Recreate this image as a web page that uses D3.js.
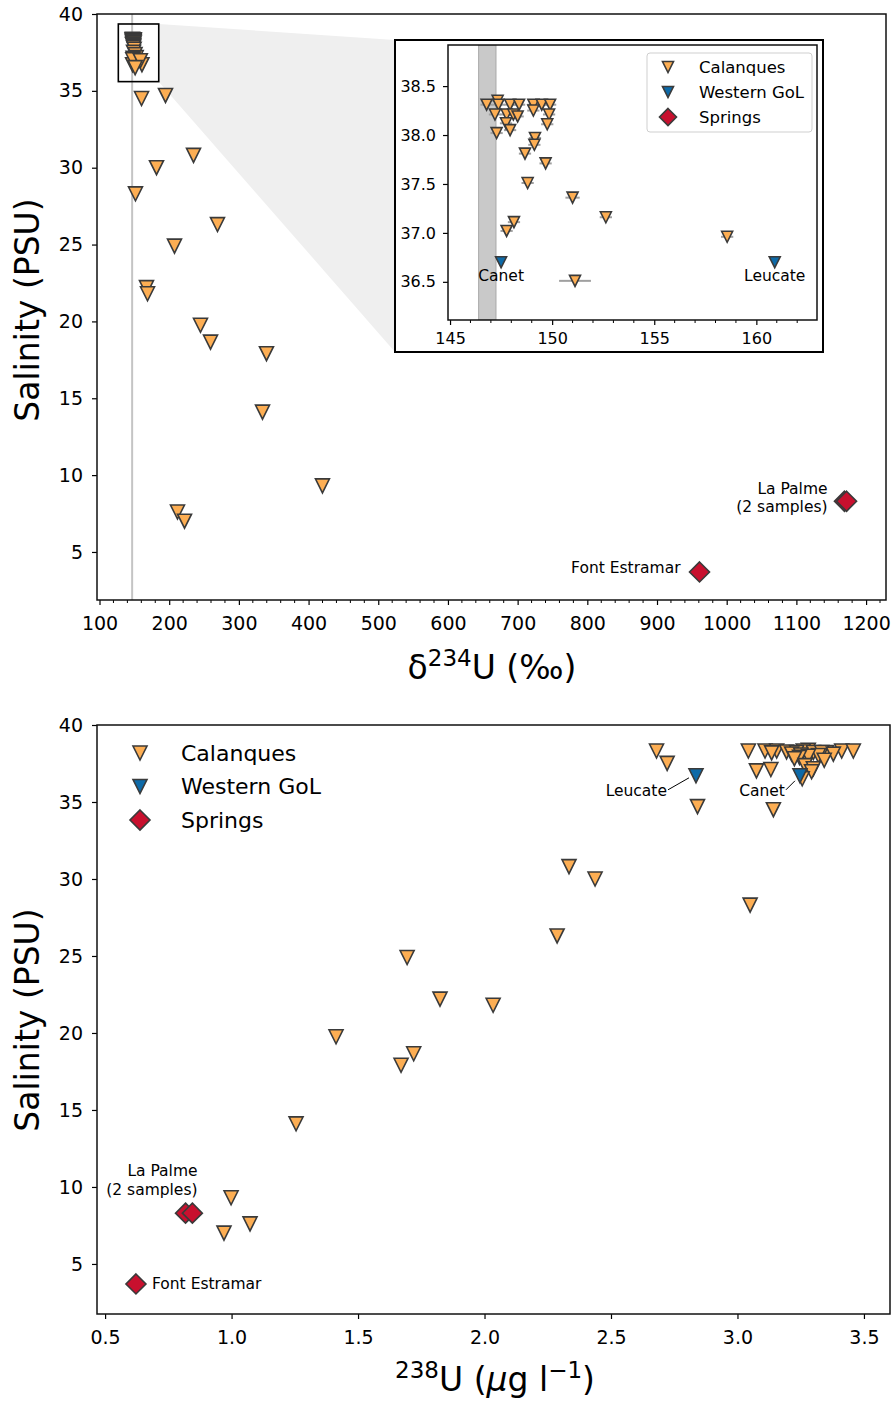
<!DOCTYPE html>
<html>
<head>
<meta charset="utf-8">
<script src="https://cdn.jsdelivr.net/npm/d3@7"></script>
<style>
body { margin: 0; background: #fff; }
svg text { font-family: "DejaVu Sans", sans-serif; fill: #000; }
</style>
</head>
<body>
<svg id="chart" width="896" height="1402"></svg>
<script>
// Calanques samples: d234U (permil), salinity (PSU), 238U (ug/l), d234U error
const calD234 = [147.33, 146.79, 147.37, 147.94, 148.38, 149.08, 149.49, 149.9, 149.08, 147.2, 147.77, 148.1, 149.85, 148.31, 147.74, 149.76, 147.94, 147.28, 149.16, 149.13, 148.67, 149.68, 148.8, 151.0, 152.63, 148.13, 147.77, 158.57, 151.12,
                 151.6, 160.3, 194.7, 234.9, 181.8, 207.6, 269.3, 167.4, 168.9, 244.9, 259.3, 339.6, 333.9, 419.9, 211.9, 222.0];
const calSal  = [38.35, 38.31, 38.31, 38.31, 38.31, 38.31, 38.31, 38.31, 38.25, 38.21, 38.21, 38.21, 38.21, 38.19, 38.12, 38.11, 38.05, 38.02, 37.97, 37.90, 37.81, 37.71, 37.51, 37.36, 37.16, 37.11, 37.02, 36.96, 36.51,
                 28.3, 34.5, 34.7, 30.8, 30.0, 24.9, 26.3, 22.2, 21.8, 19.75, 18.65, 17.9, 14.1, 9.3, 7.6, 7.0];
const calU    = [3.28, 2.68, 3.043, 3.109, 3.155, 3.26, 3.412, 3.458, 3.194, 3.234, 3.30, 3.352, 3.333, 3.135, 3.214, 3.379, 3.25, 3.32, 3.28, 3.245, 3.225, 3.343, 2.722, 3.267, 3.30, 3.132, 3.075, 3.293, 3.256,
                 3.05, 3.142, 2.842, 2.334, 2.437, 1.694, 2.287, 1.824, 2.034, 1.413, 1.72, 1.67, 1.255, 0.998, 1.073, 0.97];
const calErr  = [0.3, 0.3, 0.3, 0.3, 0.3, 0.3, 0.3, 0.3, 0.3, 0.3, 0.3, 0.3, 0.3, 0.3, 0.3, 0.3, 0.3, 0.3, 0.3, 0.3, 0.3, 0.3, 0.3, 0.35, 0.3, 0.3, 0.3, 0.3, 0.78,
                 1, 1, 1, 1, 1, 1, 1, 1, 1, 1, 1, 1, 1, 1, 1, 1];

// Western Gulf of Lion
const golNames = ["Canet", "Leucate"];
const golD234 = [147.5, 160.9];
const golSal  = [36.7, 36.7];
const golU    = [3.247, 2.836];

// Springs (La Palme: 2 samples)
const springNames = ["Font Estramar", "La Palme", "La Palme"];
const springD234 = [961, 1169, 1172];
const springSal  = [3.7, 8.3, 8.3];
const springU    = [0.622, 0.818, 0.845];

// seawater d234U band and zoom box (data units)
const seawaterBand = [146.4, 147.25];
const zoomBoxD234 = [127, 185];
const zoomBoxSal = [35.6, 39.35];

const seriesNames = ["Calanques", "Western GoL", "Springs"];
const seriesColors = ["#fdae53", "#0d6aa8", "#c8102e"];
const edge = "#3a3a3a";

const svg = d3.select("#chart");

const tri = h => `M${-h},${-h}L${h},${-h}L0,${h}Z`;
const dia = r => `M0,${-r}L${r},0L0,${r}L${-r},0Z`;

function styleAxis(g, fs) {
    g.attr("font-family", null).attr("font-size", null);
    g.select(".domain").remove();
    g.selectAll(".tick line").attr("stroke", "#000").attr("stroke-width", 1.2);
    g.selectAll(".tick text").style("font-size", fs + "px");
}

function frame(x, y) {
    svg.append("rect")
        .attr("x", x.range()[0]).attr("y", y.range()[1])
        .attr("width", x.range()[1] - x.range()[0])
        .attr("height", y.range()[0] - y.range()[1])
        .attr("fill", "none").attr("stroke", "#111").attr("stroke-width", 1.5);
}

function minorTicks(x, y, values, len) {
    svg.append("g").selectAll("line").data(values).join("line")
        .attr("x1", d => x(d)).attr("x2", d => x(d))
        .attr("y1", y.range()[0]).attr("y2", y.range()[0] + len)
        .attr("stroke", "#000").attr("stroke-width", 1);
}

function points(g, x, y, xs, ys, path, color) {
    g.append("g").selectAll("path").data(xs).join("path")
        .attr("d", path)
        .attr("transform", (d, i) => `translate(${x(d)},${y(ys[i])})`)
        .attr("fill", color).attr("stroke", edge).attr("stroke-width", 1.6)
        .attr("stroke-linejoin", "miter");
}

// ---------- top panel ----------
const xTop = d3.scaleLinear().domain([96.4, 1228.6]).range([97, 886]);
const yTop = d3.scaleLinear().domain([1.875, 40]).range([600, 14]);

const inset = {left: 395, top: 40, right: 823, bottom: 352};

svg.append("polygon")
    .attr("points", [
        [xTop(zoomBoxD234[1]), yTop(zoomBoxSal[1])],
        [inset.left, inset.top],
        [inset.left, inset.bottom],
        [xTop(zoomBoxD234[1]), yTop(zoomBoxSal[0])]
    ].map(p => p.join(",")).join(" "))
    .attr("fill", "#efefef");

svg.append("line")
    .attr("x1", xTop(d3.mean(seawaterBand))).attr("x2", xTop(d3.mean(seawaterBand)))
    .attr("y1", yTop.range()[0]).attr("y2", yTop.range()[1])
    .attr("stroke", "#c4c4c4").attr("stroke-width", 2);

const gTop = svg.append("g");
points(gTop, xTop, yTop, golD234, golSal, tri(7), seriesColors[0]);
points(gTop, xTop, yTop, calD234, calSal, tri(7), seriesColors[0]);
points(gTop, xTop, yTop, springD234, springSal, dia(10), seriesColors[2]);

svg.append("rect")
    .attr("x", xTop(zoomBoxD234[0])).attr("y", yTop(zoomBoxSal[1]))
    .attr("width", xTop(zoomBoxD234[1]) - xTop(zoomBoxD234[0]))
    .attr("height", yTop(zoomBoxSal[0]) - yTop(zoomBoxSal[1]))
    .attr("fill", "none").attr("stroke", "#000").attr("stroke-width", 1.6);

// spring labels, top
svg.append("text").attr("x", xTop(springD234[0]) - 19).attr("y", yTop(springSal[0]) - 4)
    .attr("text-anchor", "end").attr("dominant-baseline", "central").style("font-size", "15.5px")
    .text(springNames[0]);
const lpTop = svg.append("text").attr("text-anchor", "end").style("font-size", "15.5px");
lpTop.append("tspan").attr("x", xTop(springD234[2]) - 19).attr("y", yTop(springSal[2]) - 12)
    .attr("dominant-baseline", "central").text("La Palme");
lpTop.append("tspan").attr("x", xTop(springD234[2]) - 19).attr("y", yTop(springSal[2]) + 6)
    .attr("dominant-baseline", "central").text("(2 samples)");

svg.append("g").attr("transform", `translate(0,${yTop.range()[0]})`)
    .call(d3.axisBottom(xTop).tickValues(d3.range(100, 1201, 100)).tickFormat(d3.format("d")).tickSize(5).tickPadding(12).tickSizeOuter(0))
    .call(g => styleAxis(g, 19));
minorTicks(xTop, yTop, d3.range(100, 1221, 20).filter(d => d % 100 !== 0), 3);
svg.append("g").attr("transform", `translate(${xTop.range()[0]},0)`)
    .call(d3.axisLeft(yTop).tickValues(d3.range(5, 41, 5)).tickSize(5).tickPadding(9).tickSizeOuter(0))
    .call(g => styleAxis(g, 19));
frame(xTop, yTop);

const xlab1 = svg.append("text").attr("x", 492).attr("y", 679).attr("text-anchor", "middle").style("font-size", "33px");
xlab1.append("tspan").text("δ");
xlab1.append("tspan").attr("dy", -13).style("font-size", "23px").text("234");
xlab1.append("tspan").attr("dy", 13).text("U (‰)");

svg.append("text").attr("transform", "translate(27,310) rotate(-90)")
    .attr("text-anchor", "middle").attr("dominant-baseline", "central")
    .style("font-size", "33px").text("Salinity (PSU)");

// ---------- inset ----------
svg.append("rect")
    .attr("x", inset.left).attr("y", inset.top)
    .attr("width", inset.right - inset.left).attr("height", inset.bottom - inset.top)
    .attr("fill", "#fff").attr("stroke", "#000").attr("stroke-width", 2);

const xIn = d3.scaleLinear().domain([144.9, 162.97]).range([448, 817]);
const yIn = d3.scaleLinear().domain([36.11, 38.92]).range([320, 45]);

svg.append("clipPath").attr("id", "inclip").append("rect")
    .attr("x", 448).attr("y", 45).attr("width", 817 - 448).attr("height", 320 - 45);

const gIn = svg.append("g").attr("clip-path", "url(#inclip)");
gIn.append("rect")
    .attr("x", xIn(seawaterBand[0])).attr("y", yIn.range()[1])
    .attr("width", xIn(seawaterBand[1]) - xIn(seawaterBand[0]))
    .attr("height", yIn.range()[0] - yIn.range()[1])
    .attr("fill", "#c9c9c9").attr("stroke", "#a9a9a9").attr("stroke-width", 1);

gIn.append("g").selectAll("line").data(calD234).join("line")
    .attr("x1", (d, i) => xIn(d - calErr[i])).attr("x2", (d, i) => xIn(d + calErr[i]))
    .attr("y1", (d, i) => yIn(calSal[i])).attr("y2", (d, i) => yIn(calSal[i]))
    .attr("stroke", "#a0a0a0").attr("stroke-width", 2);

points(gIn, xIn, yIn, calD234, calSal, tri(5.5), seriesColors[0]);
points(gIn, xIn, yIn, golD234, golSal, tri(5.5), seriesColors[1]);

svg.append("g").selectAll("text").data(golNames).join("text")
    .attr("x", (d, i) => xIn(golD234[i])).attr("y", (d, i) => yIn(golSal[i]) + 14)
    .attr("text-anchor", "middle").attr("dominant-baseline", "central")
    .style("font-size", "15.5px").text(d => d);

svg.append("g").attr("transform", `translate(0,${yIn.range()[0]})`)
    .call(d3.axisBottom(xIn).tickValues([145, 150, 155, 160]).tickSize(5).tickPadding(8).tickSizeOuter(0))
    .call(g => styleAxis(g, 16));
minorTicks(xIn, yIn, d3.range(146, 163, 1).filter(d => d % 5 !== 0), 3);
svg.append("g").attr("transform", `translate(${xIn.range()[0]},0)`)
    .call(d3.axisLeft(yIn).tickValues([36.5, 37.0, 37.5, 38.0, 38.5]).tickFormat(d3.format(".1f")).tickSize(5).tickPadding(7).tickSizeOuter(0))
    .call(g => styleAxis(g, 16));
frame(xIn, yIn);

// inset legend
const legIn = svg.append("g").attr("transform", "translate(647,53)");
legIn.append("rect").attr("width", 165).attr("height", 79).attr("rx", 3)
    .attr("fill", "#fff").attr("stroke", "#cfcfcf").attr("stroke-width", 1);
seriesNames.forEach((name, i) => {
    const row = legIn.append("g").attr("transform", `translate(21,${14 + i * 25})`);
    row.append("path").attr("d", i === 2 ? dia(8.5) : tri(5.5))
        .attr("fill", seriesColors[i]).attr("stroke", edge).attr("stroke-width", 1.6);
    row.append("text").attr("x", 31).attr("dominant-baseline", "central")
        .style("font-size", "16.5px").text(name);
});

// ---------- bottom panel ----------
const xBot = d3.scaleLinear().domain([0.468, 3.603]).range([97, 890]);
const yBot = d3.scaleLinear().domain([1.75, 40]).range([1314, 725]);

const gBot = svg.append("g");
points(gBot, xBot, yBot, calU, calSal, tri(7), seriesColors[0]);
points(gBot, xBot, yBot, golU, golSal, tri(7), seriesColors[1]);
points(gBot, xBot, yBot, springU, springSal, dia(10), seriesColors[2]);

// GoL leader labels
const golLabelOff = [{tx: -15, ty: 15, lx: -5, ly: 5}, {tx: -29, ty: 15, lx: -7, ly: 2}];
golNames.forEach((name, i) => {
    const mx = xBot(golU[i]), my = yBot(golSal[i]), o = golLabelOff[i];
    svg.append("line").attr("x1", mx + o.tx + 1).attr("y1", my + o.ty - 1)
        .attr("x2", mx + o.lx).attr("y2", my + o.ly)
        .attr("stroke", "#000").attr("stroke-width", 1);
    svg.append("text").attr("x", mx + o.tx).attr("y", my + o.ty)
        .attr("text-anchor", "end").attr("dominant-baseline", "central")
        .style("font-size", "15.5px").text(name);
});

svg.append("text").attr("x", xBot(springU[0]) + 16).attr("y", yBot(springSal[0]))
    .attr("dominant-baseline", "central").style("font-size", "15.5px").text(springNames[0]);
const lpBot = svg.append("text").attr("text-anchor", "end").style("font-size", "15.5px");
lpBot.append("tspan").attr("x", xBot(springU[1]) + 12).attr("y", yBot(springSal[1]) - 42)
    .attr("dominant-baseline", "central").text("La Palme");
lpBot.append("tspan").attr("x", xBot(springU[1]) + 12).attr("y", yBot(springSal[1]) - 23)
    .attr("dominant-baseline", "central").text("(2 samples)");

svg.append("g").attr("transform", `translate(0,${yBot.range()[0]})`)
    .call(d3.axisBottom(xBot).tickValues([0.5, 1.0, 1.5, 2.0, 2.5, 3.0, 3.5]).tickFormat(d3.format(".1f")).tickSize(5).tickPadding(12).tickSizeOuter(0))
    .call(g => styleAxis(g, 19));
svg.append("g").attr("transform", `translate(${xBot.range()[0]},0)`)
    .call(d3.axisLeft(yBot).tickValues(d3.range(5, 41, 5)).tickSize(5).tickPadding(9).tickSizeOuter(0))
    .call(g => styleAxis(g, 19));
frame(xBot, yBot);

// bottom legend (no frame)
const legBot = svg.append("g").attr("transform", "translate(140,753)");
seriesNames.forEach((name, i) => {
    const row = legBot.append("g").attr("transform", `translate(0,${i * 33.5})`);
    row.append("path").attr("d", i === 2 ? dia(10) : tri(7))
        .attr("fill", seriesColors[i]).attr("stroke", edge).attr("stroke-width", 1.6);
    row.append("text").attr("x", 41).attr("dominant-baseline", "central")
        .style("font-size", "22px").text(name);
});

const xlab2 = svg.append("text").attr("x", 495).attr("y", 1391).attr("text-anchor", "middle").style("font-size", "33px");
xlab2.append("tspan").attr("dy", -13).style("font-size", "23px").text("238");
xlab2.append("tspan").attr("dy", 13).text("U (");
xlab2.append("tspan").style("font-style", "italic").text("μ");
xlab2.append("tspan").text("g l");
xlab2.append("tspan").attr("dy", -13).style("font-size", "23px").text("−1");
xlab2.append("tspan").attr("dy", 13).text(")");

svg.append("text").attr("transform", "translate(27,1020) rotate(-90)")
    .attr("text-anchor", "middle").attr("dominant-baseline", "central")
    .style("font-size", "33px").text("Salinity (PSU)");
</script>
</body>
</html>
